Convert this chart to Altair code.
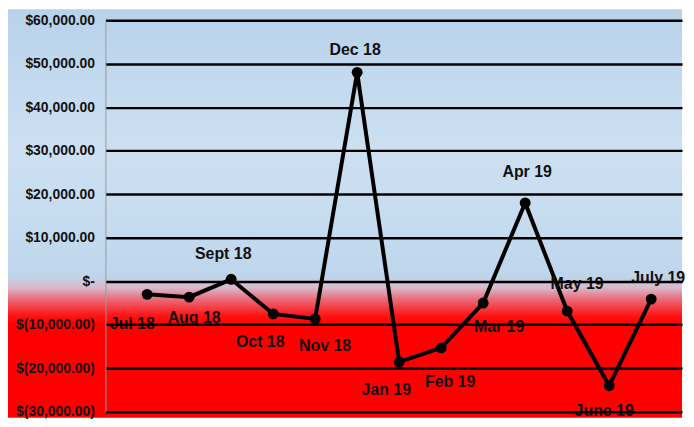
import altair as alt
import pandas as pd

# ---- data ----
months = ["Jul 18", "Aug 18", "Sept 18", "Oct 18", "Nov 18", "Dec 18",
          "Jan 19", "Feb 19", "Mar 19", "Apr 19", "May 19", "June 19", "July 19"]
values = [-3000, -3650, 450, -7500, -8650, 48000,
          -18500, -15300, -5000, 18000, -6850, -24000, -4100]
y_ticks = [-30000, -20000, -10000, 0, 10000, 20000, 30000, 40000, 50000, 60000]

# label placement offsets (dx, dy) in pixels, a styling choice per label
label_offsets = [(-15, 30), (5, 21), (-8, -25), (-13, 28), (10, 27), (-2, -22),
                 (-13, 28), (9, 34), (16, 24), (2, -31), (10, -27), (-5, 25), (7, -21)]

df = pd.DataFrame({"month": months, "value": values})

W, H = 580, 394
FONT = "Liberation Sans, Arial, sans-serif"

x = alt.X("month:N", sort=months,
          scale=alt.Scale(type="point", padding=0.864, align=0.575), axis=None)

label_expr = ("datum.value == 0 ? '$-' : (datum.value < 0 ? '$(' + format(-datum.value, ',.2f') + ')' "
              ": '$' + format(datum.value, ',.2f'))")

y = alt.Y("value:Q",
          scale=alt.Scale(domain=[-30000, 60000], nice=False, zero=False),
          axis=alt.Axis(values=y_ticks, title=None, labelExpr=label_expr,
                        labelFont=FONT, labelFontWeight="bold", labelFontSize=14,
                        labelColor="#111111", labelPadding=11, ticks=False,
                        grid=True, gridColor="#000000", gridWidth=2.5, gridOpacity=1,
                        domain=True, domainColor="#9a9a9a", domainWidth=1,
                        zindex=1))

bg = alt.Chart(pd.DataFrame({"a": [0]})).mark_rect(
    clip=False,
    fill=alt.Gradient(
        gradient="linear", x1=0, y1=0, x2=0, y2=1,
        stops=[
            alt.GradientStop(offset=0.0, color="#b8d2ea"),
            alt.GradientStop(offset=0.345, color="#cde0f2"),
            alt.GradientStop(offset=0.47, color="#c8ddf0"),
            alt.GradientStop(offset=0.652, color="#bed6ec"),
            alt.GradientStop(offset=0.682, color="#d9b9c9"),
            alt.GradientStop(offset=0.71, color="#ea6a78"),
            alt.GradientStop(offset=0.75, color="#ff1414"),
            alt.GradientStop(offset=0.77, color="#ff0000"),
            alt.GradientStop(offset=1.0, color="#ff0000"),
        ],
    ),
).encode(x=alt.value(-98), x2=alt.value(W), y=alt.value(-11), y2=alt.value(H + 6))

base = alt.Chart(df)

line = base.mark_line(color="#000000", strokeWidth=4).encode(x=x, y=y)
pts = base.mark_point(filled=True, color="#000000", size=120, opacity=1).encode(x=x, y=y)

labels = []
for m, (dx, dy) in zip(months, label_offsets):
    labels.append(
        base.transform_filter(alt.datum.month == m).mark_text(
            dx=dx, dy=dy, font=FONT, fontWeight="bold", fontSize=16,
            color="#111111", align="center", baseline="middle",
        ).encode(x=x, y=y, text="month:N")
    )

chart = alt.layer(bg, line, pts, *labels).properties(
    width=W, height=H, padding=0,
).configure_view(stroke=None)

chart.save("out.html", embed_options={"renderer": "svg", "actions": False})
